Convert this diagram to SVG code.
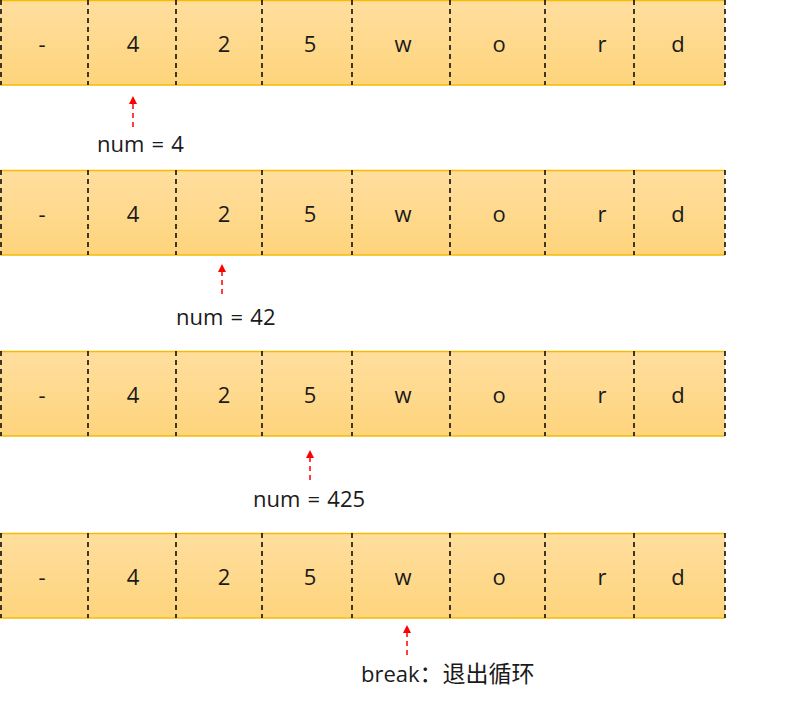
<svg xmlns="http://www.w3.org/2000/svg" width="809" height="703" viewBox="0 0 809 703">
<defs>
<linearGradient id="g" x1="0" y1="0" x2="0" y2="1">
<stop offset="0" stop-color="#FFDE9E"/>
<stop offset="1" stop-color="#FED47C"/>
</linearGradient>
<marker id="ah" markerWidth="8" markerHeight="8" refX="4" refY="4" orient="auto" markerUnits="userSpaceOnUse">
<path d="M0,0 L8,4 L0,8 z" fill="#FF0000"/>
</marker>
<g id="row">
<rect x="0" y="0" width="725" height="85" fill="url(#g)"/>
<line x1="0" y1="0.5" x2="725" y2="0.5" stroke="#F5BC00" stroke-width="1.5"/>
<line x1="0" y1="85" x2="725" y2="85" stroke="#F5BC00" stroke-width="1.5"/>
<g stroke="#000" stroke-width="1.5" stroke-dasharray="5,4">
<line x1="1" y1="0" x2="1" y2="85"/>
<line x1="88" y1="0" x2="88" y2="85"/>
<line x1="176" y1="0" x2="176" y2="85"/>
<line x1="262" y1="0" x2="262" y2="85"/>
<line x1="352" y1="0" x2="352" y2="85"/>
<line x1="450" y1="0" x2="450" y2="85"/>
<line x1="545" y1="0" x2="545" y2="85"/>
<line x1="634" y1="0" x2="634" y2="85"/>
<line x1="725" y1="0" x2="725" y2="85"/>
</g>
<g class="c" text-anchor="middle">
<text x="42" y="52">-</text>
<text x="133" y="52">4</text>
<text x="224" y="52">2</text>
<text x="310" y="52">5</text>
<text x="403" y="52">w</text>
<text x="499" y="52">o</text>
<text x="602" y="52">r</text>
<text x="678" y="52">d</text>
</g>
</g>
</defs>
<style>
text{font-family:"Open Sans","Noto Sans CJK SC","Liberation Sans",sans-serif;fill:#1a1a1a}
.c text{font-size:22px}
.lbl{font-size:22px;word-spacing:1.5px}
.cjk{font-family:"Noto Sans CJK SC",sans-serif;font-size:23px}
.arr{stroke:#FF0000;stroke-width:1.5;stroke-dasharray:5,4;fill:none}
</style>
<g id="row1"><use href="#row" x="0" y="0"/></g>
<g id="row2"><use href="#row" x="0" y="170"/></g>
<g id="row3"><use href="#row" x="0" y="351"/></g>
<g id="row4"><use href="#row" x="0" y="533"/></g>
<g id="connectors">
<line class="arr" x1="133" y1="127" x2="133" y2="100" marker-end="url(#ah)"/>
<line class="arr" x1="222" y1="294" x2="222" y2="268" marker-end="url(#ah)"/>
<line class="arr" x1="310" y1="480" x2="310" y2="454" marker-end="url(#ah)"/>
<line class="arr" x1="407" y1="655" x2="407" y2="629" marker-end="url(#ah)"/>
</g>
<g id="labels">
<text class="lbl" x="97" y="152">num = 4</text>
<text class="lbl" x="176" y="325">num = 42</text>
<text class="lbl" x="253" y="507">num = 425</text>
<text class="lbl" x="361" y="682">break<tspan class="cjk">：退出循环</tspan></text>
</g>
</svg>
